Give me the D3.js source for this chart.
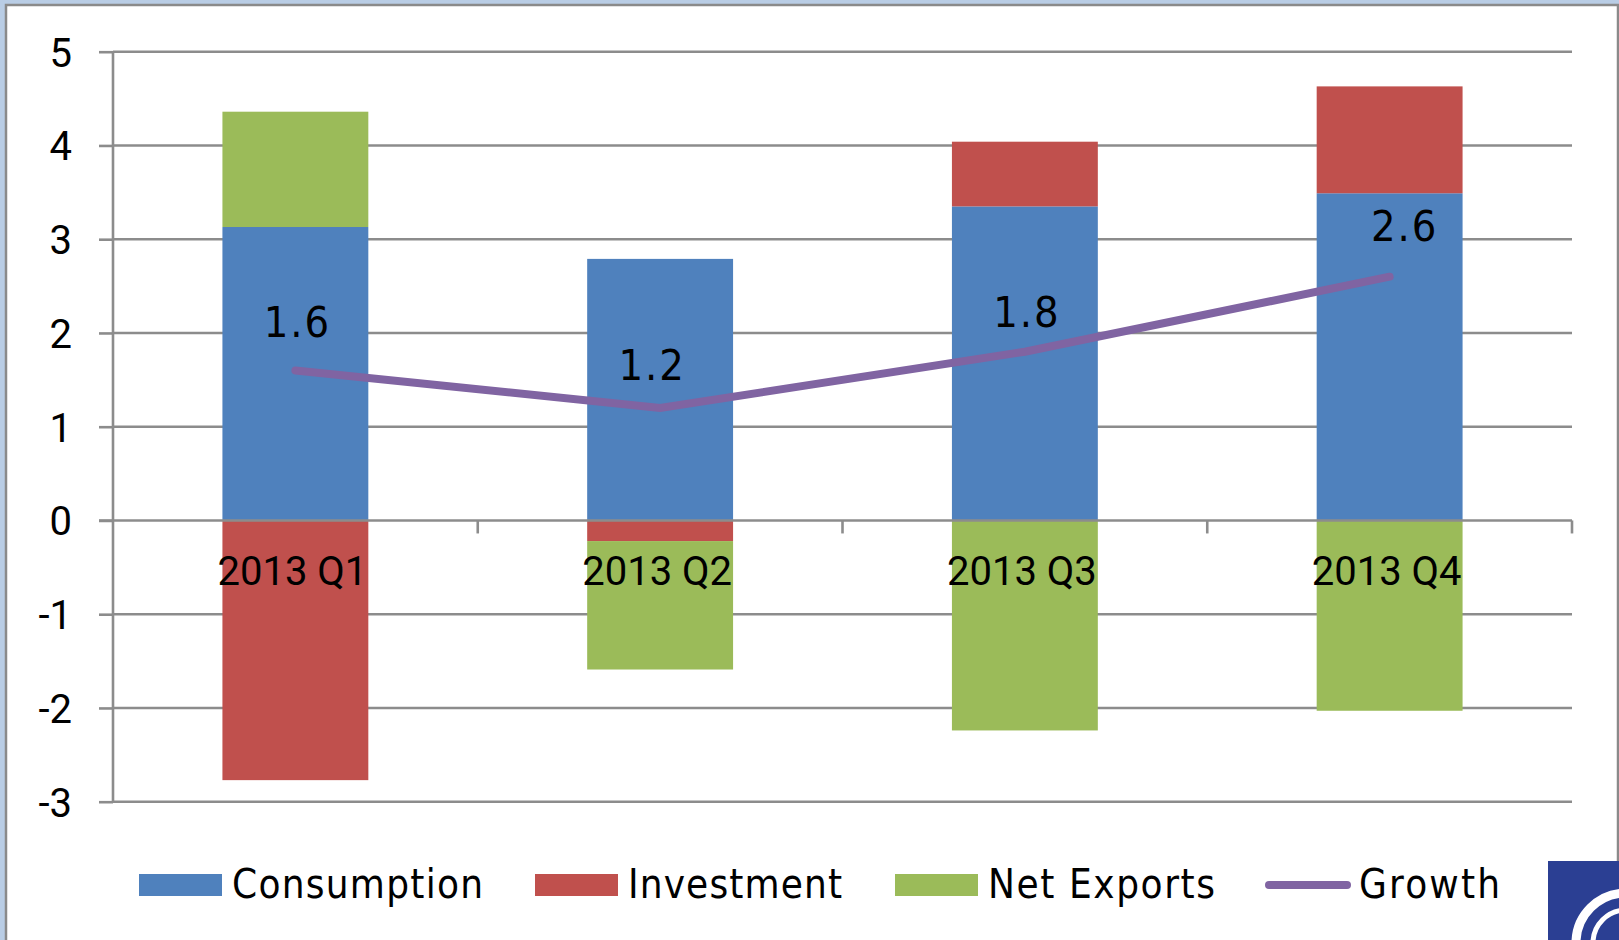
<!DOCTYPE html>
<html>
<head>
<meta charset="utf-8">
<script src="https://cdn.jsdelivr.net/npm/d3@7"></script>
<style>
  html, body { margin: 0; padding: 0; background: #fff; overflow: hidden; }
  svg { display: block; }
</style>
</head>
<body>
<svg id="chart" width="1619" height="940"></svg>
<script>
/// data ///
const quarters = ["2013 Q1", "2013 Q2", "2013 Q3", "2013 Q4"];
const consumption = [3.13, 2.79, 3.35, 3.49];
const investment = [-2.77, -0.22, 0.69, 1.14];
const netExports = [1.23, -1.37, -2.24, -2.03];
const growth = [1.6, 1.2, 1.8, 2.6];
const yTicks = [-3, -2, -1, 0, 1, 2, 3, 4, 5];

const seriesNames = ["Consumption", "Investment", "Net Exports"];
const colors = {"Consumption": "#4f81bd", "Investment": "#c0504d", "Net Exports": "#9bbb59", "Growth": "#8064a2"};

/// constants ///
const width = 1619;
const height = 940;
const plot = {left: 113, right: 1572, top: 51.7, bottom: 801.7};
// label nudges the way the original placed them (px)
const labelDx = [2, -8, 2, 15];
const labelDy = [-33, -28, -25, -36];

const svg = d3.select("#chart");

// frame - light blue strip and grey border like the slide
svg.append("rect").attr("x", 0).attr("y", 0).attr("width", width).attr("height", 4).attr("fill", "#b9cde5");
svg.append("rect").attr("x", 0).attr("y", 0).attr("width", 5).attr("height", height).attr("fill", "#b9cde5");
svg.append("path")
  .attr("d", `M6,${height} L6,5 L1618,5 L1618,861`)
  .attr("fill", "none")
  .attr("stroke", "#8a8a8a")
  .attr("stroke-width", 2.5);

/// scales ///
const x = d3.scaleBand()
  .domain(quarters)
  .range([plot.left, plot.right])
  .paddingInner(0.6)
  .paddingOuter(0.3);
// plain band without padding, for the tick marks between quarters
const xStep = d3.scaleBand().domain(quarters).range([plot.left, plot.right]);
const y = d3.scaleLinear().domain([-3, 5]).range([plot.bottom, plot.top]);

/// gridlines + y axis ///
const yAxis = svg.append("g")
  .attr("transform", `translate(${plot.left},0)`)
  .call(d3.axisLeft(y).tickValues(yTicks).tickSize(14).tickPadding(27)
    .tickFormat(d => String(d)));
yAxis.select(".domain").remove();
yAxis.selectAll("line").attr("stroke", "#8c8c8c").attr("stroke-width", 2.6);
yAxis.selectAll("text")
  .attr("font-family", "Roboto, sans-serif")
  .attr("font-size", 40)
  .attr("fill", "#000")
  .attr("dy", "0.36em");

const grid = svg.append("g");
grid.selectAll("line")
  .data(yTicks.filter(d => d !== 0))
  .join("line")
  .attr("x1", plot.left).attr("x2", plot.right)
  .attr("y1", d => y(d)).attr("y2", d => y(d))
  .attr("stroke", "#8c8c8c")
  .attr("stroke-width", 2.6);

// vertical axis line
svg.append("line")
  .attr("x1", plot.left).attr("x2", plot.left)
  .attr("y1", y(5)).attr("y2", y(-3))
  .attr("stroke", "#8c8c8c").attr("stroke-width", 2.6);

/// stacked bars ///
const table = quarters.map((q, i) => ({
  quarter: q,
  "Consumption": consumption[i],
  "Investment": investment[i],
  "Net Exports": netExports[i]
}));
const stacked = d3.stack()
  .keys(seriesNames)
  .offset(d3.stackOffsetDiverging)(table);

svg.append("g")
  .selectAll("g")
  .data(stacked)
  .join("g")
  .attr("fill", d => colors[d.key])
  .selectAll("rect")
  .data(d => d)
  .join("rect")
  .attr("x", d => x(d.data.quarter))
  .attr("width", x.bandwidth())
  .attr("y", d => y(Math.max(d[0], d[1])))
  .attr("height", d => Math.abs(y(d[0]) - y(d[1])));

/// x axis at zero ///
const xAxis = svg.append("g").attr("transform", `translate(0,${y(0)})`);
xAxis.append("line")
  .attr("x1", plot.left - 14).attr("x2", plot.right)
  .attr("stroke", "#8c8c8c").attr("stroke-width", 2.6);
xAxis.selectAll(".tick-mark")
  .data(quarters)
  .join("line")
  .attr("class", "tick-mark")
  .attr("x1", d => xStep(d) + xStep.bandwidth()).attr("x2", d => xStep(d) + xStep.bandwidth())
  .attr("y1", 0).attr("y2", 13)
  .attr("stroke", "#8c8c8c").attr("stroke-width", 2.6);
xAxis.selectAll(".cat")
  .data(quarters)
  .join("text")
  .attr("class", "cat")
  .attr("x", d => x(d) + x.bandwidth() / 2 - 3)
  .attr("y", 65)
  .attr("text-anchor", "middle")
  .attr("font-family", "Roboto, sans-serif")
  .attr("font-size", 40)
  .attr("fill", "#000")
  .text(d => d);

/// growth line ///
const line = d3.line()
  .x((d, i) => x(quarters[i]) + x.bandwidth() / 2)
  .y(d => y(d));
svg.append("path")
  .datum(growth)
  .attr("d", line)
  .attr("fill", "none")
  .attr("stroke", colors["Growth"])
  .attr("stroke-width", 8)
  .attr("stroke-linecap", "round")
  .attr("stroke-linejoin", "miter");

svg.append("g")
  .selectAll("text")
  .data(growth)
  .join("text")
  .attr("x", (d, i) => x(quarters[i]) + x.bandwidth() / 2 + labelDx[i])
  .attr("y", (d, i) => y(d) + labelDy[i])
  .attr("text-anchor", "middle")
  .attr("font-family", "'DejaVu Sans Condensed', 'DejaVu Sans', sans-serif")
  .attr("font-size", 43)
  .attr("letter-spacing", 2)
  .attr("fill", "#000")
  .text(d => d3.format(".1f")(d));

/// legend ///
const legendItems = ["Consumption", "Investment", "Net Exports", "Growth"];
const legendX = [139, 535, 895, 1265];
const legendTextW = [251, 214, 227, 141];
const legendY = 885;
const legend = svg.append("g")
  .selectAll("g")
  .data(legendItems)
  .join("g")
  .attr("transform", (d, i) => `translate(${legendX[i]},${legendY})`);
legend.filter(d => d !== "Growth")
  .append("rect")
  .attr("x", 0).attr("y", -11)
  .attr("width", 83).attr("height", 22)
  .attr("fill", d => colors[d]);
legend.filter(d => d === "Growth")
  .append("line")
  .attr("x1", 4).attr("x2", 82)
  .attr("stroke", colors["Growth"])
  .attr("stroke-width", 8)
  .attr("stroke-linecap", "round");
legend.append("text")
  .attr("x", d => d === "Growth" ? 94 : 93)
  .attr("y", 13)
  .attr("font-family", "'DejaVu Sans Condensed', 'DejaVu Sans', sans-serif")
  .attr("font-size", 40)
  .attr("fill", "#000")
  .attr("textLength", (d, i) => legendTextW[i])
  .attr("lengthAdjust", "spacing")
  .text(d => d);

/// logo corner (partly visible) ///
const logo = svg.append("g").attr("transform", "translate(1548,861)");
logo.append("rect").attr("width", 80).attr("height", 90).attr("fill", "#2b3f93");
logo.append("circle").attr("cx", 78).attr("cy", 82).attr("r", 50)
  .attr("fill", "none").attr("stroke", "#fff").attr("stroke-width", 9);
logo.append("circle").attr("cx", 78).attr("cy", 82).attr("r", 33)
  .attr("fill", "none").attr("stroke", "#fff").attr("stroke-width", 5);
</script>
</body>
</html>
